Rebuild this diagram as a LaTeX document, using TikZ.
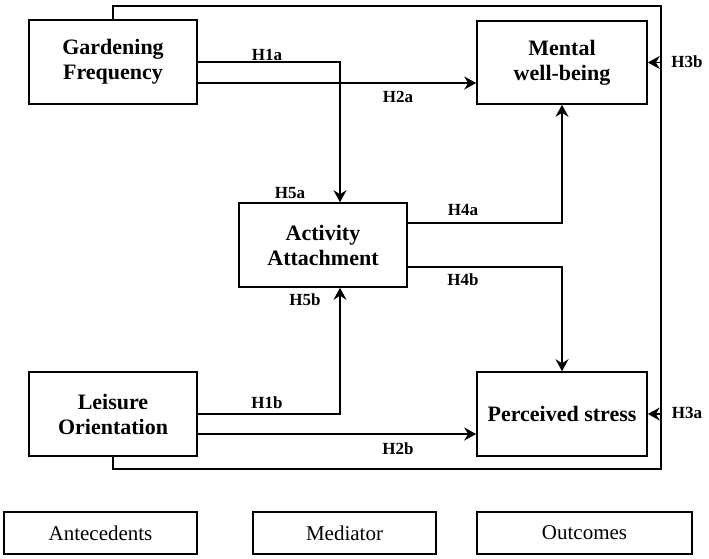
\documentclass[tikz,border=0pt]{standalone}
\usepackage{fontspec}
\setmainfont{Liberation Serif}
\usetikzlibrary{arrows.meta}

\tikzset{
    construct/.style={draw, line width=1.6pt, align=center, inner sep=0pt,
        minimum width=168pt, minimum height=84pt,
        font=\fontsize{22}{25}\selectfont\bfseries},
    legendbox/.style={draw, line width=1.6pt, inner sep=0pt, minimum height=42pt,
        font=\fontsize{21}{24}\selectfont},
    hyp/.style={font=\fontsize{17}{19}\selectfont\bfseries},
    link/.style={line width=1.6pt, -{Stealth[length=12pt, width=13pt, inset=4pt]}},
    frame/.style={line width=1.6pt},
}

\begin{document}
\begin{tikzpicture}[x=1pt, y=-1pt]
    \useasboundingbox (0,0) rectangle (709,558);
    % Constructs
    \node[construct] (garden) at (113,62) {Gardening\\Frequency};
    \node[construct] (leisure) at (113,414) {Leisure\\Orientation};
    \node[construct] (attach) at (323,245) {Activity\\Attachment};
    \node[construct, minimum width=170pt, minimum height=83pt] (mental) at (562,62.5) {Mental\\well-being};
    \node[construct, minimum width=170pt] (stress) at (562,414) {Perceived stress};
    % Legend
    \node[legendbox, minimum width=193pt] (antec) at (100.5,533) {Antecedents};
    \node[legendbox, minimum width=183pt] (mediat) at (344.5,533) {Mediator};
    \node[legendbox, minimum width=215pt] (outcom) at (584.5,533) {Outcomes};
    % Paths through the mediator
    \draw[link] (garden.east) -| ([xshift=17pt]attach.north);
    \draw[link] (leisure.east) -| ([xshift=17pt]attach.south);
    \draw[link] ([yshift=22pt]attach.east) -| (mental.south);
    \draw[link] ([yshift=-22pt]attach.east) -| (stress.north);
    % Direct paths
    \coordinate (d2a) at ([yshift=-21pt]garden.east);
    \coordinate (d2b) at ([yshift=-20pt]leisure.east);
    \draw[link] (d2a) -- (d2a -| mental.west);
    \draw[link] (d2b) -- (d2b -| stress.west);
    % Outer frame
    \coordinate (ftop) at (661,6);
    \coordinate (fbot) at (661,469);
    \draw[frame] (garden.north) |- (ftop) -- (fbot) -| (leisure.south);
    \draw[link] (ftop |- mental.east) -- (mental.east);
    \draw[link] (fbot |- stress.east) -- (stress.east);
    % Hypotheses
    \foreach \name/\x/\y in {H1a/267/55, H2a/398/97, H3b/687/62, H4a/463/210,
        H4b/463/280, H5a/290/193, H5b/305/300, H1b/267/403, H2b/398/449, H3a/687/413} {
        \node[hyp] (l\name) at (\x,\y) {\name};
    }
\end{tikzpicture}
\end{document}
